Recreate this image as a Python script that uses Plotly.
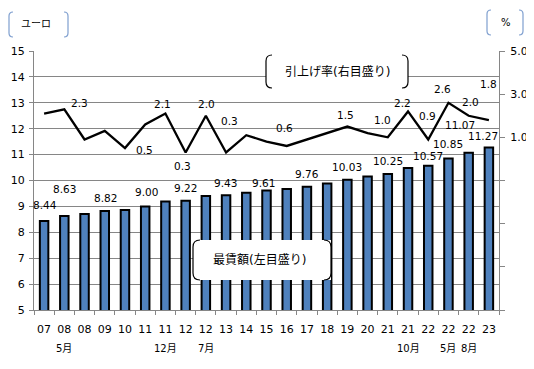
import plotly.graph_objects as go

# ---------------- data ----------------
year_labels = ["07", "08", "08", "09", "10", "11", "11", "12", "12", "13", "14", "15",
               "16", "17", "18", "19", "20", "21", "21", "22", "22", "22", "23"]
month_labels = ["", "5月", "", "", "", "", "12月", "", "7月", "", "", "",
                "", "", "", "", "", "", "10月", "", "5月", "8月", ""]
wage_eur = [8.44, 8.63, 8.71, 8.82, 8.86, 9.00, 9.19, 9.22, 9.40, 9.43, 9.53, 9.61,
            9.67, 9.76, 9.88, 10.03, 10.15, 10.25, 10.48, 10.57, 10.85, 11.07, 11.27]
rate_pct = [2.1, 2.3, 0.9, 1.3, 0.5, 1.6, 2.1, 0.3, 2.0, 0.3, 1.1, 0.8,
            0.6, 0.9, 1.2, 1.5, 1.2, 1.0, 2.2, 0.9, 2.6, 2.0, 1.8]
# which points get a value label, and the pixel offset of that label
wage_label_idx = [0, 1, 3, 5, 7, 9, 11, 13, 15, 17, 19, 20, 21, 22]
wage_label_off = [(1, 16), (0, 27), (1, 13), (1, 14), (0, 13), (-1, 12), (-3, 8), (0, 13),
                  (0, 13), (0, 13), (0, 10), (0, 14), (-9, 28), (-6, 12)]
rate_label_idx = [1, 4, 6, 7, 8, 9, 12, 15, 17, 18, 19, 20, 21, 22]
rate_label_off = [(15, 6), (20, -2), (-3, 10), (-3, -14), (1, 12), (3, 31), (-2, 18),
                  (-2, 12), (-5, 17), (-6, 8), (-1, 23), (-6, 14), (2, 14), (0, 36)]

idx = list(range(len(year_labels)))

FONT = "DejaVu Sans, Noto Sans CJK JP, sans-serif"
GRID = "#868686"

# the page body has an 8px margin; the figure is shrunk/shifted to compensate
OFF = 8
W, H = 534 - OFF, 369 - OFF
# plot area in reference-picture pixels
L, R, T, B = 34, 499, 51, 310


def px(x):
    return (x - L) / (R - L)


def py(y):
    return (B - y) / (B - T)


def bracket_pair(x0, y0, x1, y1, r, color, width, fill=None):
    shapes = []
    if fill:
        shapes.append(dict(type="rect", xref="paper", yref="paper", layer="above",
                           x0=px(x0), x1=px(x1), y0=py(y1), y1=py(y0),
                           fillcolor=fill, line=dict(width=0)))
    lp = (f"M {px(x0 + r)},{py(y0)} Q {px(x0)},{py(y0)} {px(x0)},{py(y0 + r)} "
          f"L {px(x0)},{py(y1 - r)} Q {px(x0)},{py(y1)} {px(x0 + r)},{py(y1)}")
    rp = (f"M {px(x1 - r)},{py(y0)} Q {px(x1)},{py(y0)} {px(x1)},{py(y0 + r)} "
          f"L {px(x1)},{py(y1 - r)} Q {px(x1)},{py(y1)} {px(x1 - r)},{py(y1)}")
    for p in (lp, rp):
        shapes.append(dict(type="path", xref="paper", yref="paper", layer="above",
                           path=p, line=dict(color=color, width=width)))
    return shapes


fig = go.Figure()
fig.add_trace(go.Bar(x=idx, y=wage_eur, width=0.42,
                     marker=dict(color="#4F81BD", line=dict(color="#000000", width=2)),
                     yaxis="y", showlegend=False, hoverinfo="skip"))
fig.add_trace(go.Scatter(x=idx, y=rate_pct, mode="lines",
                         line=dict(color="#000000", width=2.3),
                         yaxis="y2", showlegend=False, hoverinfo="skip"))

ANC = dict(xanchor="center", yanchor="middle", showarrow=False)
annotations = []
for i, (dx, dy) in zip(wage_label_idx, wage_label_off):
    annotations.append(dict(x=i, y=wage_eur[i], xref="x", yref="y",
                            text=f"{wage_eur[i]:.2f}", xshift=dx, yshift=dy,
                            font=dict(size=10.5, color="#000"), **ANC))
for i, (dx, dy) in zip(rate_label_idx, rate_label_off):
    annotations.append(dict(x=i, y=rate_pct[i], xref="x", yref="y2",
                            text=f"{rate_pct[i]:.1f}", xshift=dx, yshift=dy,
                            font=dict(size=10.5, color="#000"), **ANC))
for i, m in enumerate(month_labels):
    if m:
        annotations.append(dict(x=i, y=py(348), xref="x", yref="paper", text=m,
                                font=dict(size=10, color="#000"), **ANC))

# text boxes
annotations += [
    dict(x=px(36), y=py(23.5), xref="paper", yref="paper", text="ユーロ",
         font=dict(size=10, color="#000"), **ANC),
    dict(x=px(505.5), y=py(22), xref="paper", yref="paper", text="%",
         font=dict(size=10, color="#000"), **ANC),
    dict(x=px(337), y=py(72), xref="paper", yref="paper", text="引上げ率(右目盛り)",
         font=dict(size=12, color="#000"), **ANC),
    dict(x=px(259), y=py(260), xref="paper", yref="paper", text="最賃額(左目盛り)",
         font=dict(size=12, color="#000"), **ANC),
]

shapes = []
shapes += bracket_pair(9, 12, 68, 37, 4, "#7F9FCF", 1.2)
shapes += bracket_pair(487, 10, 523, 35, 4, "#7F9FCF", 1.2)
shapes += bracket_pair(266, 55, 408, 88, 6, "#000000", 1.2, fill="#FFFFFF")
shapes += bracket_pair(193, 240, 331, 280, 7, "#000000", 1.2, fill="#FFFFFF")

fig.update_layout(
    width=W, height=H,
    margin=dict(l=L - OFF, r=W - (R - OFF), t=T - OFF, b=H - (B - OFF), autoexpand=False),
    paper_bgcolor="#FFFFFF", plot_bgcolor="#FFFFFF",
    font=dict(family=FONT, size=11, color="#000"),
    bargap=0.5,
    xaxis=dict(type="category", tickmode="array", tickvals=idx, ticktext=year_labels,
               tickson="boundaries", ticks="outside", ticklen=4, tickcolor=GRID,
               showline=True, linecolor=GRID, linewidth=1, showgrid=False,
               range=[-0.5, len(idx) - 0.5], tickfont=dict(size=11),
               tickangle=0, automargin=False, ticklabelstandoff=9),
    yaxis=dict(range=[5, 15], dtick=1, tick0=5, showgrid=True, gridcolor=GRID,
               gridwidth=1, showline=True, linecolor=GRID, ticks="outside", ticklen=4,
               tickcolor=GRID, zeroline=False, tickfont=dict(size=11), automargin=False,
               ticklabelstandoff=2),
    yaxis2=dict(range=[-7, 5], overlaying="y", side="right", tickmode="array",
                tickvals=[-7, -5, -3, -1, 1, 3, 5],
                ticktext=["", "", "", "", "1.0", "3.0", "5.0"],
                showgrid=False, showline=True, linecolor=GRID, ticks="outside",
                ticklen=5, tickcolor=GRID, zeroline=False, tickfont=dict(size=11),
                automargin=False, ticklabelstandoff=3),
    annotations=annotations,
    shapes=shapes,
)

fig.write_html("out.html")
